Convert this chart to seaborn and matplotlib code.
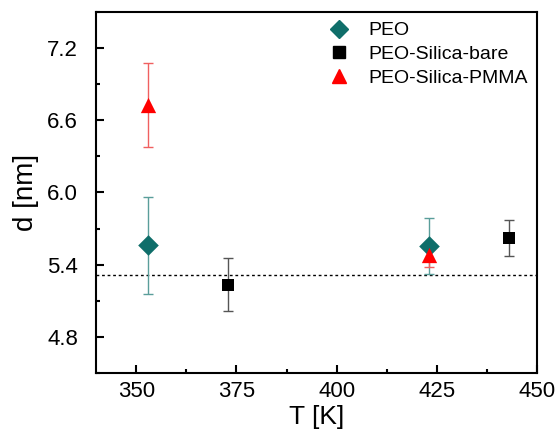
import numpy as np
import pandas as pd
import matplotlib
matplotlib.use("Agg")
import matplotlib.pyplot as plt
import seaborn as sns
from matplotlib.ticker import AutoMinorLocator

# data
peo_T = [353, 423]
peo_d = [5.56, 5.555]
peo_err = [0.40, 0.235]

bare_T = [373, 443]
bare_d = [5.233, 5.62]
bare_err = [0.22, 0.15]

pmma_T = [353, 423]
pmma_d = [6.73, 5.48]
pmma_err = [0.35, 0.10]

ref_line = 5.318

sns.set_style("ticks")
plt.rcParams['font.family'] = ['Liberation Sans', 'DejaVu Sans']
plt.rcParams['text.color'] = 'black'
plt.rcParams['axes.labelcolor'] = 'black'
plt.rcParams['xtick.color'] = 'black'
plt.rcParams['ytick.color'] = 'black'
plt.rcParams['axes.edgecolor'] = 'black'

fig = plt.figure(figsize=(5.59, 4.45), dpi=100)
ax = fig.add_axes([0.172, 0.162, 0.789, 0.811])

ax.axhline(ref_line, color='black', linestyle=(0, (2, 2)), linewidth=1.0, zorder=1)

series = [
    ("PEO", peo_T, peo_d, peo_err, "#0f6e6a", "#5a9e9a", "D", 10.5),
    ("PEO-Silica-bare", bare_T, bare_d, bare_err, "black", "#555555", "s", 9),
    ("PEO-Silica-PMMA", pmma_T, pmma_d, pmma_err, "red", "#f06060", "^", 11),
]

handles = []
for name, T, d, e, col, ecol, mk, ms in series:
    ax.errorbar(T, d, yerr=e, fmt='none', ecolor=ecol, elinewidth=1.0,
                capsize=3.5, capthick=1.0, zorder=2)
    df = pd.DataFrame({"T": T, "d": d})
    sns.scatterplot(data=df, x="T", y="d", ax=ax, marker=mk, color=col,
                    s=ms ** 2, edgecolor=col, linewidth=0, zorder=3)
    h, = ax.plot([], [], linestyle='none', marker=mk, color=col, markersize=ms * 0.9)
    handles.append(h)

ax.set_xlim(340, 450)
ax.set_ylim(4.5, 7.5)
ax.set_xticks([350, 375, 400, 425, 450])
ax.set_yticks([4.8, 5.4, 6.0, 6.6, 7.2])
ax.xaxis.set_minor_locator(AutoMinorLocator(2))
ax.yaxis.set_minor_locator(AutoMinorLocator(2))
ax.tick_params(which='major', direction='in', length=6, width=1.5, labelsize=16)
ax.tick_params(axis='x', which='major', pad=6)
ax.tick_params(axis='y', which='major', pad=13)
ax.tick_params(which='minor', direction='in', length=3, width=1.5)
for s in ax.spines.values():
    s.set_linewidth(1.5)

ax.set_xlabel("T [K]", fontsize=19, labelpad=2)
ax.set_ylabel("d [nm]", fontsize=20, labelpad=6)

ax.legend(handles, [s[0] for s in series], loc='upper right', frameon=False,
          fontsize=14, handletextpad=0.9, borderaxespad=0.05, labelspacing=0.32,
          handlelength=1.2, borderpad=0.45)

fig.savefig("out.png", dpi=100)
